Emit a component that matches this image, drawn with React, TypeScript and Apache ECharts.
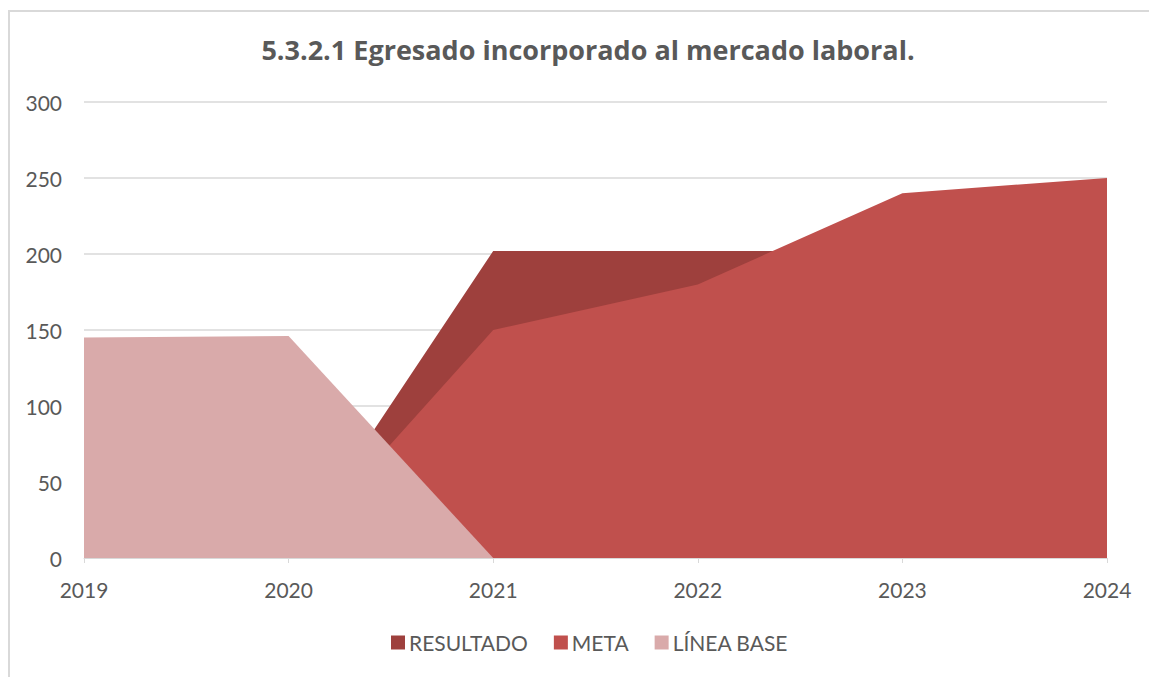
import React, { useEffect, useRef } from "react";
import * as echarts from "echarts";

const years = ["2019", "2020", "2021", "2022", "2023", "2024"];
const resultado = [0, 0, 202, 202, 202, 202];
const meta = [0, 0, 150, 180, 240, 250];
const lineaBase: (number | null)[] = [145, 146, 0, null, null, null];
const yTicks = [0, 50, 100, 150, 200, 250, 300];

const FONT = "Lato, 'Open Sans', sans-serif";
const GRAY = "#595959";

export default function App() {
  const ref = useRef<HTMLDivElement>(null);
  useEffect(() => {
    if (!ref.current) return;
    const chart = echarts.init(ref.current, undefined, { renderer: "svg" });
    const mk = (name: string, data: (number | null)[], color: string) => ({
      name,
      type: "line",
      data,
      symbol: "none",
      lineStyle: { width: 0 },
      itemStyle: { color },
      areaStyle: { color, opacity: 1 },
      z: 2,
    });
    chart.setOption({
      animation: false,
      textStyle: { fontFamily: FONT },
      title: {
        text: "5.3.2.1 Egresado incorporado al mercado laboral.",
        left: 583,
        textAlign: "center",
        top: 31,
        textStyle: { fontFamily: "'Open Sans', sans-serif", fontWeight: "bold", fontSize: 27, color: GRAY },
      },
      grid: { left: 84, right: 42, top: 102, bottom: 119, containLabel: false },
      legend: {
        bottom: 19,
        left: 386,
        itemWidth: 14,
        itemHeight: 14,
        itemGap: 26,
        icon: "rect",
        textStyle: { fontFamily: FONT, fontSize: 21, color: GRAY, padding: [0, 0, 0, -1] },
        data: ["RESULTADO", "META", "LÍNEA BASE"],
      },
      xAxis: {
        type: "category",
        data: years,
        boundaryGap: false,
        axisLine: { show: true, lineStyle: { color: "#d9d9d9", width: 1 } },
        axisTick: { show: true, length: 5, lineStyle: { color: "#d9d9d9" } },
        axisLabel: { fontFamily: FONT, fontSize: 21, color: GRAY, margin: 21 },
        splitLine: { show: false },
        z: 5,
      },
      yAxis: {
        type: "value",
        min: yTicks[0],
        max: yTicks[yTicks.length - 1],
        interval: 50,
        axisLine: { show: false },
        axisTick: { show: false },
        axisLabel: { fontFamily: FONT, fontSize: 21, color: GRAY, margin: 22 },
        splitLine: { show: true, lineStyle: { color: "#d9d9d9", width: 1.5 } },
      },
      series: [
        mk("RESULTADO", resultado, "#9E403D"),
        mk("META", meta, "#C0504D"),
        mk("LÍNEA BASE", lineaBase, "#D9AAAA"),
      ],
    });
    return () => chart.dispose();
  }, []);
  return (
    <div style={{ position: "fixed", left: 0, top: 0, width: 1149, height: 677, background: "#fff", overflow: "hidden" }}>
      <div
        style={{
          position: "absolute",
          left: 8,
          top: 10,
          width: 1200,
          height: 700,
          borderLeft: "2px solid #d9d9d9",
          borderTop: "2px solid #d9d9d9",
        }}
      />
      <div ref={ref} style={{ position: "absolute", left: 0, top: 0, width: 1149, height: 677 }} />
    </div>
  );
}
